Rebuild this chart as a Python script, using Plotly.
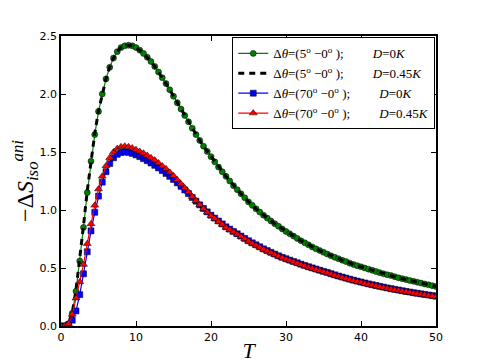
import plotly.graph_objects as go

# temperature grid, step 0.5
T = [i * 0.5 for i in range(101)]

# Delta theta = (5 - 0), D = 0K
s5_d0 = [0.000, 0.000, 0.020, 0.110, 0.300, 0.560, 0.850, 1.150, 1.420, 1.650,
         1.850, 2.000, 2.130, 2.230, 2.310, 2.365, 2.400, 2.415, 2.420, 2.415,
         2.400, 2.378, 2.350, 2.317, 2.280, 2.237, 2.190, 2.141, 2.090, 2.036,
         1.980, 1.925, 1.870, 1.815, 1.760, 1.705, 1.650, 1.600, 1.550, 1.505,
         1.460, 1.415, 1.370, 1.330, 1.290, 1.250, 1.210, 1.175, 1.140, 1.105,
         1.070, 1.040, 1.010, 0.982, 0.955, 0.930, 0.905, 0.882, 0.860, 0.837,
         0.815, 0.795, 0.775, 0.755, 0.735, 0.717, 0.700, 0.682, 0.665, 0.650,
         0.635, 0.620, 0.605, 0.592, 0.580, 0.567, 0.555, 0.542, 0.530, 0.520,
         0.510, 0.500, 0.490, 0.480, 0.470, 0.460, 0.450, 0.442, 0.435, 0.425,
         0.415, 0.408, 0.400, 0.392, 0.385, 0.378, 0.370, 0.362, 0.355, 0.348,
         0.340]

# Delta theta = (5 - 0), D = 0.45K
s5_d45 = [0.000, 0.000, 0.022, 0.115, 0.310, 0.575, 0.865, 1.165, 1.430, 1.658,
          1.855, 2.004, 2.132, 2.232, 2.311, 2.366, 2.400, 2.415, 2.420, 2.415,
          2.400, 2.378, 2.350, 2.317, 2.280, 2.237, 2.190, 2.141, 2.090, 2.036,
          1.980, 1.925, 1.870, 1.815, 1.760, 1.705, 1.650, 1.600, 1.550, 1.505,
          1.460, 1.415, 1.370, 1.330, 1.290, 1.250, 1.210, 1.175, 1.140, 1.105,
          1.070, 1.040, 1.010, 0.982, 0.955, 0.930, 0.905, 0.882, 0.860, 0.837,
          0.815, 0.795, 0.775, 0.755, 0.735, 0.717, 0.700, 0.682, 0.665, 0.650,
          0.635, 0.620, 0.605, 0.592, 0.580, 0.567, 0.555, 0.542, 0.530, 0.520,
          0.510, 0.500, 0.490, 0.480, 0.470, 0.460, 0.450, 0.442, 0.435, 0.425,
          0.415, 0.408, 0.400, 0.392, 0.385, 0.378, 0.370, 0.362, 0.355, 0.348,
          0.340]

# Delta theta = (70 - 0), D = 0K
s70_d0 = [0.000, 0.000, 0.010, 0.050, 0.130, 0.270, 0.450, 0.640, 0.820, 0.980,
          1.120, 1.240, 1.330, 1.400, 1.450, 1.480, 1.495, 1.500, 1.497, 1.488,
          1.475, 1.460, 1.443, 1.425, 1.405, 1.385, 1.363, 1.340, 1.315, 1.290,
          1.263, 1.234, 1.204, 1.173, 1.141, 1.108, 1.076, 1.044, 1.013, 0.984,
          0.955, 0.930, 0.905, 0.880, 0.855, 0.835, 0.815, 0.795, 0.775, 0.755,
          0.735, 0.717, 0.700, 0.683, 0.665, 0.650, 0.635, 0.620, 0.605, 0.592,
          0.580, 0.568, 0.556, 0.545, 0.533, 0.522, 0.511, 0.501, 0.491, 0.481,
          0.471, 0.462, 0.451, 0.441, 0.431, 0.422, 0.413, 0.404, 0.395, 0.387,
          0.379, 0.371, 0.363, 0.356, 0.349, 0.342, 0.335, 0.328, 0.322, 0.316,
          0.310, 0.304, 0.298, 0.293, 0.287, 0.282, 0.277, 0.272, 0.267, 0.262,
          0.257]

# Delta theta = (70 - 0), D = 0.45K
s70_d45 = [0.000, 0.000, 0.020, 0.100, 0.240, 0.380, 0.530, 0.710, 0.880, 1.040,
           1.180, 1.290, 1.380, 1.450, 1.500, 1.530, 1.545, 1.550, 1.545, 1.535,
           1.520, 1.505, 1.490, 1.470, 1.450, 1.430, 1.405, 1.380, 1.355, 1.325,
           1.295, 1.260, 1.225, 1.190, 1.155, 1.115, 1.080, 1.045, 1.010, 0.980,
           0.950, 0.925, 0.900, 0.875, 0.850, 0.830, 0.810, 0.790, 0.770, 0.750,
           0.730, 0.712, 0.695, 0.678, 0.660, 0.645, 0.630, 0.615, 0.600, 0.587,
           0.575, 0.563, 0.551, 0.540, 0.528, 0.517, 0.506, 0.496, 0.486, 0.476,
           0.466, 0.457, 0.446, 0.436, 0.426, 0.417, 0.408, 0.399, 0.390, 0.382,
           0.374, 0.366, 0.358, 0.351, 0.344, 0.337, 0.330, 0.323, 0.317, 0.311,
           0.305, 0.299, 0.293, 0.288, 0.282, 0.277, 0.272, 0.267, 0.262, 0.257,
           0.252]

sp = '\u00a0'
labels = [
    'Δ<i>θ</i>=(5<sup>o</sup> −0<sup>o</sup> );' + sp * 9 + '<i>D</i>=0<i>K</i>',
    'Δ<i>θ</i>=(5<sup>o</sup> −0<sup>o</sup> );' + sp * 9 + '<i>D</i>=0.45<i>K</i>',
    'Δ<i>θ</i>=(70<sup>o</sup> −0<sup>o</sup> );' + sp * 9 + '<i>D</i>=0<i>K</i>',
    'Δ<i>θ</i>=(70<sup>o</sup> −0<sup>o</sup> );' + sp * 9 + '<i>D</i>=0.45<i>K</i>',
]

edge = dict(color='black', width=0.5)

fig = go.Figure()
fig.add_trace(go.Scatter(x=T, y=s5_d0, name=labels[0], mode='lines+markers',
                         line=dict(color='#008000', width=1.2),
                         marker=dict(symbol='circle', size=6, color='#008000', line=edge)))
fig.add_trace(go.Scatter(x=T, y=s5_d45, name=labels[1], mode='lines',
                         line=dict(color='black', width=3, dash='6px,5px')))
fig.add_trace(go.Scatter(x=T, y=s70_d0, name=labels[2], mode='lines+markers',
                         line=dict(color='#0000ff', width=1.2),
                         marker=dict(symbol='square', size=6, color='#0000ff', line=edge)))
fig.add_trace(go.Scatter(x=T, y=s70_d45, name=labels[3], mode='lines+markers',
                         line=dict(color='#ff0000', width=1.2),
                         marker=dict(symbol='triangle-up', size=7, color='#ff0000', line=edge)))

axis_common = dict(showgrid=False, zeroline=False, showline=True, linecolor='black',
                   linewidth=1.5, mirror='ticks', ticks='inside', ticklen=5,
                   tickcolor='black', tickwidth=1, automargin=False,
                   tickfont=dict(family='DejaVu Sans', size=11, color='black'))

fig.update_xaxes(range=[0, 50], tickvals=[0, 10, 20, 30, 40, 50],
                 title=dict(text='<i>T</i>', font=dict(family='Liberation Serif', size=22, color='black'),
                            standoff=0),
                 **axis_common)
fig.update_yaxes(range=[0, 2.5], tickvals=[0, 0.5, 1.0, 1.5, 2.0, 2.5], tickformat='.1f',
                 title=dict(text='−Δ<i>S</i><sub><i>iso</i></sub><sup><i>ani</i></sup>',
                            font=dict(family='Liberation Serif', size=24, color='black'),
                            standoff=6),
                 **axis_common)

fig.update_layout(
    width=477, height=355,
    margin=dict(l=53, r=49, t=28, b=37),
    plot_bgcolor='white', paper_bgcolor='white',
    legend=dict(x=0.998, y=0.995, xanchor='right', yanchor='top',
                bgcolor='white', bordercolor='black', borderwidth=1,
                font=dict(family='Liberation Serif', size=13, color='black'),
                tracegroupgap=0, itemwidth=30),
)

fig.write_html("out.html")
